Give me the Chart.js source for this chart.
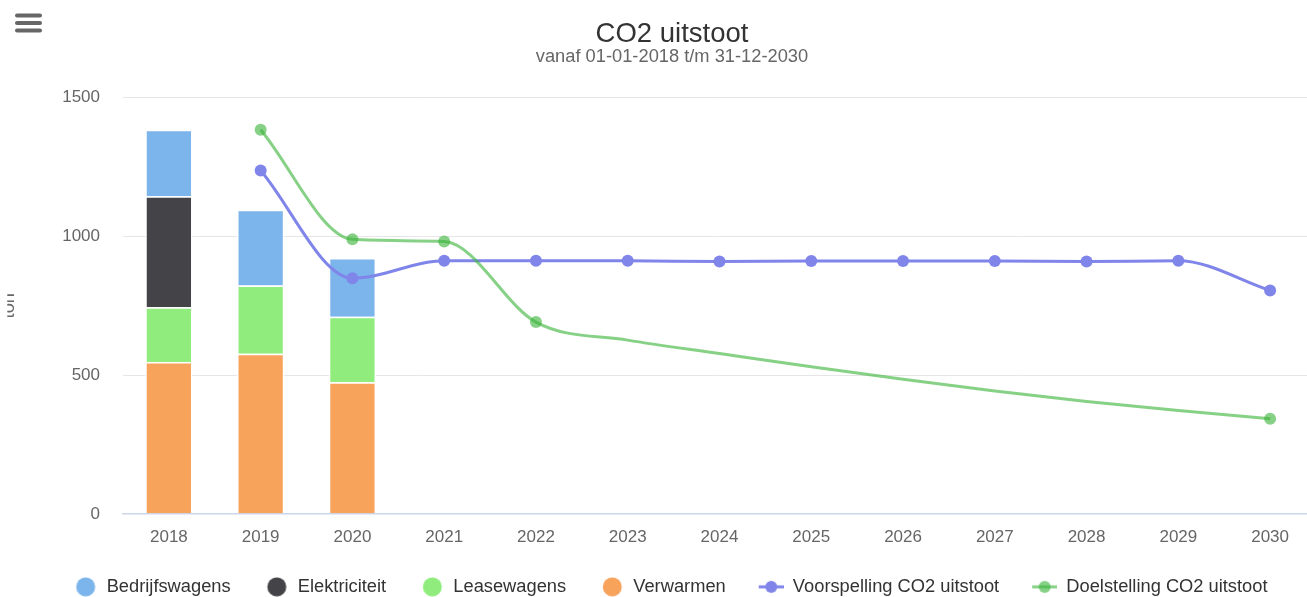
<!DOCTYPE html>
<html>
<head>
<meta charset="utf-8">
<script src="https://cdn.jsdelivr.net/npm/chart.js@4.4.1/dist/chart.umd.min.js"></script>
<style>
html,body{margin:0;padding:0;overflow:hidden;background:#fff;width:1307px;height:597px}
#wrap{position:absolute;left:0;top:0;width:1344px;height:606px}
</style>
</head>
<body>
<div id="wrap"><canvas id="c" width="1344" height="606"></canvas></div>
<script>
// ---- data ----
const categories = ['2018','2019','2020','2021','2022','2023','2024','2025','2026','2027','2028','2029','2030'];
const bedrijfswagens = [240, 273, 212, null, null, null, null, null, null, null, null, null, null];
const elektriciteit  = [400, null, null, null, null, null, null, null, null, null, null, null, null];
const leasewagens    = [197, 246, 236, null, null, null, null, null, null, null, null, null, null];
const verwarmen      = [547, 577, 474, null, null, null, null, null, null, null, null, null, null];
const voorspelling   = [null, 1237, 849, 912, 912, 912, 909, 911, 911, 911, 909, 912, 805];
const doelstelling   = [null, 1384, 989, 981, 691, 626, 578, 530, 485, 443, 405, 372, 343];
const doelMarked     = [false, true, true, true, true, false, false, false, false, false, false, false, true];
const yTicks = [0, 500, 1000, 1500];
const titleText = 'CO2 uitstoot';
const subtitleText = 'vanaf 01-01-2018 t/m 31-12-2030';
const yTitleText = 'ton';

const FONT = "'Liberation Sans', Arial, Helvetica, sans-serif";
Chart.defaults.font.family = FONT;

const C_BLUE = '#7cb5ec', C_DARK = '#434348', C_LGREEN = '#90ed7d', C_ORANGE = '#f7a35c';
const C_LINE1 = '#8085e9', C_LINE2 = 'rgba(60,180,60,0.62)';

// legend symbols (box 35 px wide; the left 10 px act as extra item spacing)
function circleSymbol(color) {
  const cv = document.createElement('canvas');
  cv.width = 35; cv.height = 20;
  const g = cv.getContext('2d');
  g.fillStyle = color;
  g.beginPath(); g.arc(23.2, 10, 9.5, 0, Math.PI * 2); g.fill();
  return cv;
}
function lineSymbol(color) {
  const cv = document.createElement('canvas');
  cv.width = 35; cv.height = 14;
  const g = cv.getContext('2d');
  g.strokeStyle = color; g.lineWidth = 3;
  g.beginPath(); g.moveTo(10, 7); g.lineTo(35, 7); g.stroke();
  g.fillStyle = color;
  g.beginPath(); g.arc(22.5, 7, 6, 0, Math.PI * 2); g.fill();
  return cv;
}

const extras = {
  id: 'extras',
  afterLayout(chart) {
    if (chart.legend) { chart.legend.left -= 7; chart.legend.right -= 7; }
  },
  afterDraw(chart) {
    const ctx = chart.ctx;
    // hamburger menu icon
    ctx.save();
    ctx.strokeStyle = '#666'; ctx.lineWidth = 4; ctx.lineCap = 'round';
    [15.5, 23, 30.5].forEach(y => { ctx.beginPath(); ctx.moveTo(17, y); ctx.lineTo(40, y); ctx.stroke(); });
    ctx.restore();
    // y axis title (partly outside the visible area)
    const area = chart.chartArea;
    ctx.save();
    ctx.beginPath(); ctx.rect(7.3, 0, 60, chart.height); ctx.clip();
    ctx.translate(13.5, (area.top + area.bottom) / 2);
    ctx.rotate(-Math.PI / 2);
    ctx.fillStyle = '#666';
    ctx.font = '18.3px ' + FONT;
    ctx.textAlign = 'center'; ctx.textBaseline = 'alphabetic';
    ctx.fillText(yTitleText, 0, 0);
    ctx.restore();
  }
};

const barBase = { stack: 'bars', borderColor: '#ffffff', borderWidth: 1.5, borderSkipped: 'start', barPercentage: 0.515, categoryPercentage: 1 };

new Chart(document.getElementById('c'), {
  type: 'bar',
  data: {
    labels: categories,
    datasets: [
      Object.assign({ label: 'Bedrijfswagens', data: bedrijfswagens, backgroundColor: C_BLUE, order: 5, _sym: circleSymbol(C_BLUE) }, barBase),
      Object.assign({ label: 'Elektriciteit', data: elektriciteit, backgroundColor: C_DARK, order: 4, _sym: circleSymbol(C_DARK) }, barBase),
      Object.assign({ label: 'Leasewagens', data: leasewagens, backgroundColor: C_LGREEN, order: 3, _sym: circleSymbol(C_LGREEN) }, barBase),
      Object.assign({ label: 'Verwarmen', data: verwarmen, backgroundColor: C_ORANGE, order: 2, _sym: circleSymbol(C_ORANGE) }, barBase),
      { type: 'line', label: 'Voorspelling CO2 uitstoot', data: voorspelling, order: 1, stack: 'voorspelling',
        borderColor: C_LINE1, backgroundColor: C_LINE1, borderWidth: 3,
        pointRadius: 6, pointBorderWidth: 0, pointBackgroundColor: C_LINE1, pointHoverRadius: 6,
        cubicInterpolationMode: 'monotone', spanGaps: true, _sym: lineSymbol(C_LINE1) },
      { type: 'line', label: 'Doelstelling CO2 uitstoot', data: doelstelling, order: 0, stack: 'doelstelling',
        borderColor: C_LINE2, backgroundColor: C_LINE2, borderWidth: 3,
        pointRadius: (c) => doelMarked[c.dataIndex] ? 6 : 0, pointBorderWidth: 0, pointBackgroundColor: C_LINE2,
        cubicInterpolationMode: 'monotone', spanGaps: true, _sym: lineSymbol(C_LINE2) }
    ]
  },
  options: {
    responsive: false,
    animation: false,
    devicePixelRatio: 1,
    layout: { padding: 0 },
    scales: {
      x: {
        stacked: true,
        grid: { display: false, drawTicks: false },
        border: { display: true, color: '#ccd6eb', width: 1.5 },
        ticks: { color: '#666', font: { size: 17 }, padding: 13.5, maxRotation: 0, autoSkip: false },
        afterFit(scale) { scale.height = 40.85; }
      },
      y: {
        stacked: true,
        min: 0, max: 1500,
        afterBuildTicks(scale) { scale.ticks = yTicks.map(v => ({ value: v })); },
        grid: { color: '#e6e6e6', lineWidth: 1, drawTicks: false },
        border: { display: false },
        ticks: { color: '#666', font: { size: 17 }, padding: 23, callback: (v) => String(v) },
        afterFit(scale) { scale.width = 123; }
      },
      yRightSpace: {
        position: 'right', display: true,
        grid: { display: false, drawTicks: false }, border: { display: false },
        ticks: { display: false },
        afterFit(scale) { scale.width = 28; }
      }
    },
    plugins: {
      tooltip: { enabled: false },
      title: { display: true, text: titleText, color: '#333', font: { size: 27.5, weight: 'normal', lineHeight: 0.9 }, padding: { top: 22.5, bottom: 0 } },
      subtitle: { display: true, text: subtitleText, color: '#666', font: { size: 18.3, weight: 'normal', lineHeight: 1 }, padding: { top: 0.5, bottom: 31.5 } },
      legend: {
        position: 'bottom',
        labels: {
          usePointStyle: true,
          pointStyleWidth: 35,
          padding: 23,
          color: '#333',
          font: { size: 18.3 },
          generateLabels(chart) {
            const items = Chart.defaults.plugins.legend.labels.generateLabels(chart);
            items.forEach(it => { it.pointStyle = chart.data.datasets[it.datasetIndex]._sym; it.fontColor = '#333'; });
            return items.sort((a, b) => a.datasetIndex - b.datasetIndex);
          }
        }
      }
    }
  },
  plugins: [extras]
});
</script>
</body>
</html>
